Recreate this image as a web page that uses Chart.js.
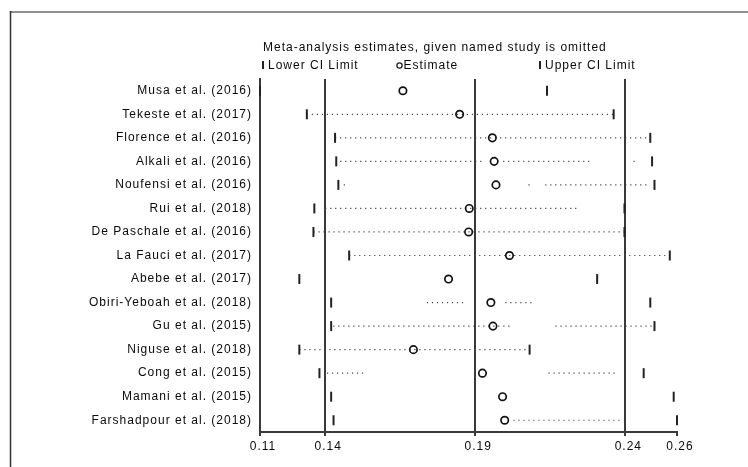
<!DOCTYPE html>
<html>
<head>
<meta charset="utf-8">
<script src="https://cdn.jsdelivr.net/npm/chart.js@4.4.0/dist/chart.umd.min.js"></script>
<style>
  html, body { margin: 0; padding: 0; background: #fff; }
  #c { display: block; width: 748px; height: 467px; }
</style>
</head>
<body>
<canvas id="c" width="748" height="467"></canvas>
<script>
// Studies, each omitted in turn
const studies = [
  'Musa et al. (2016)',
  'Tekeste et al. (2017)',
  'Florence et al. (2016)',
  'Alkali et al. (2016)',
  'Noufensi et al. (2016)',
  'Rui et al. (2018)',
  'De Paschale et al. (2016)',
  'La Fauci et al. (2017)',
  'Abebe et al. (2017)',
  'Obiri-Yeboah et al. (2018)',
  'Gu et al. (2015)',
  'Niguse et al. (2018)',
  'Cong et al. (2015)',
  'Mamani et al. (2015)',
  'Farshadpour et al. (2018)'
];

// Pooled estimate with the named study left out, plus its CI limits
const lowerCI  = [0.1183, 0.1339, 0.1433, 0.1437, 0.1444, 0.1364, 0.1361, 0.1480, 0.1314, 0.1420, 0.1420, 0.1314, 0.1381, 0.1420, 0.1428];
const estimate = [0.1659, 0.1848, 0.1957, 0.1963, 0.1969, 0.1880, 0.1878, 0.2014, 0.1811, 0.1952, 0.1959, 0.1694, 0.1924, 0.1991, 0.1998];
const upperCI  = [0.2139, 0.2361, 0.2483, 0.2489, 0.2497, 0.2397, 0.2397, 0.2548, 0.2306, 0.2483, 0.2497, 0.2081, 0.2461, 0.2561, 0.2572];

// Dotted connector runs: [row, from, to]
const dottedRuns = [
  [1, 0.1339, 0.2361],
  [2, 0.1433, 0.2483],
  [3, 0.1450, 0.1927], [3, 0.1993, 0.2290], [3, 0.2427, 0.2440],
  [4, 0.1462, 0.1472], [4, 0.2077, 0.2090], [4, 0.2133, 0.2473],
  [5, 0.1400, 0.2240],
  [6, 0.1361, 0.2397],
  [7, 0.1480, 0.2548],
  [9, 0.1739, 0.1867], [9, 0.2000, 0.2093],
  [10, 0.1427, 0.2017], [10, 0.2167, 0.2490],
  [11, 0.1314, 0.2081],
  [12, 0.1406, 0.1533], [12, 0.2144, 0.2373],
  [14, 0.2027, 0.2383]
];

// Overall pooled lower limit, estimate, upper limit (reference lines)
const overall = [0.14, 0.19, 0.24];

// Axis: range spans the smallest lower and largest upper limit
const axisMin = Math.min(...lowerCI);
const axisMax = Math.max(...upperCI);
const tickValues = [axisMin, overall[0], overall[1], overall[2], axisMax];
const tickLabels = ['0.11', '0.14', '0.19', '0.24', '0.26'];

const TEXT = '#0a0a0a';
const LINE = '#3a3a3a';

Chart.defaults.font.family = '"Liberation Sans", Arial, sans-serif';
Chart.defaults.font.size = 12;
Chart.defaults.color = TEXT;

const connectorSets = dottedRuns.map(([r, a, b]) => ({
  label: 'connector',
  data: [{ x: a, y: studies[r] }, { x: b, y: studies[r] }],
  showLine: true,
  pointRadius: 0,
  borderWidth: 1.2,
  borderColor: '#444',
  borderDash: [1.2, 3.8]
}));

const pageDecor = {
  id: 'pageDecor',
  beforeDraw(chart) {
    const ctx = chart.ctx;
    ctx.letterSpacing = '1px';
    ctx.save();
    // outer frame
    ctx.strokeStyle = '#8f8f8f';
    ctx.lineWidth = 2;
    ctx.beginPath();
    ctx.moveTo(10, 12);
    ctx.lineTo(748, 12);
    ctx.stroke();
    ctx.strokeStyle = '#333';
    ctx.lineWidth = 1.5;
    ctx.beginPath();
    ctx.moveTo(10.5, 11);
    ctx.lineTo(10.5, 467);
    ctx.stroke();
    ctx.restore();
  },
  afterDraw(chart) {
    const ctx = chart.ctx;
    ctx.save();
    ctx.letterSpacing = '1px';
    ctx.fillStyle = TEXT;
    ctx.font = '12px "Liberation Sans", Arial, sans-serif';
    ctx.textBaseline = 'alphabetic';
    ctx.textAlign = 'left';
    ctx.fillText('Meta-analysis estimates, given named study is omitted', 263, 51);
    // legend row
    ctx.strokeStyle = '#222';
    ctx.lineWidth = 2;
    ctx.beginPath();
    ctx.moveTo(263, 61); ctx.lineTo(263, 69);
    ctx.moveTo(540, 61); ctx.lineTo(540, 69);
    ctx.stroke();
    ctx.lineWidth = 1.3;
    ctx.beginPath();
    ctx.arc(399.5, 65.5, 2.6, 0, Math.PI * 2);
    ctx.stroke();
    ctx.fillText('Lower CI Limit', 268, 69);
    ctx.fillText('Estimate', 403.5, 69);
    ctx.fillText('Upper CI Limit', 545, 69);
    ctx.restore();
  }
};

new Chart(document.getElementById('c'), {
  type: 'scatter',
  data: {
    datasets: [
      {
        label: 'Estimate',
        data: estimate.map((v, i) => ({ x: v, y: studies[i] })),
        pointStyle: 'circle',
        pointRadius: 3.7,
        borderWidth: 1.7,
        borderColor: '#111',
        backgroundColor: 'rgba(0,0,0,0)',
        showLine: false,
        clip: false
      },
      {
        label: 'Lower CI Limit',
        data: lowerCI.map((v, i) => ({ x: v, y: studies[i] })),
        pointStyle: 'line',
        rotation: 90,
        pointRadius: 5,
        borderWidth: 2,
        borderColor: '#222',
        showLine: false,
        clip: false
      },
      {
        label: 'Upper CI Limit',
        data: upperCI.map((v, i) => ({ x: v, y: studies[i] })),
        pointStyle: 'line',
        rotation: 90,
        pointRadius: 5,
        borderWidth: 2,
        borderColor: '#222',
        showLine: false,
        clip: false
      },
      ...connectorSets
    ]
  },
  options: {
    responsive: false,
    animation: false,
    devicePixelRatio: 1,
    layout: { padding: { top: 79, right: 71, left: 0, bottom: 0 } },
    plugins: { legend: { display: false }, tooltip: { enabled: false } },
    scales: {
      x: {
        type: 'linear',
        min: axisMin,
        max: axisMax,
        afterBuildTicks: s => { s.ticks = tickValues.map(v => ({ value: v })); },
        afterFit: s => { s.height = 35; },
        ticks: {
          autoSkip: false,
          maxRotation: 0,
          padding: 3,
          labelOffset: 3,
          color: TEXT,
          callback: (v, i) => tickLabels[i]
        },
        grid: {
          display: true,
          drawOnChartArea: true,
          lineWidth: 2,
          tickLength: 4,
          tickColor: LINE,
          color: c => (c.index === 0 || c.index === tickValues.length - 1) ? 'rgba(0,0,0,0)' : LINE
        },
        border: { display: true, color: LINE, width: 2 }
      },
      y: {
        type: 'category',
        labels: studies,
        offset: true,
        afterFit: s => { s.width = 260; },
        ticks: { padding: 0, color: TEXT, autoSkip: false },
        grid: { display: false, offset: true },
        border: { display: true, color: LINE, width: 2 }
      }
    }
  },
  plugins: [pageDecor]
});
</script>
</body>
</html>
